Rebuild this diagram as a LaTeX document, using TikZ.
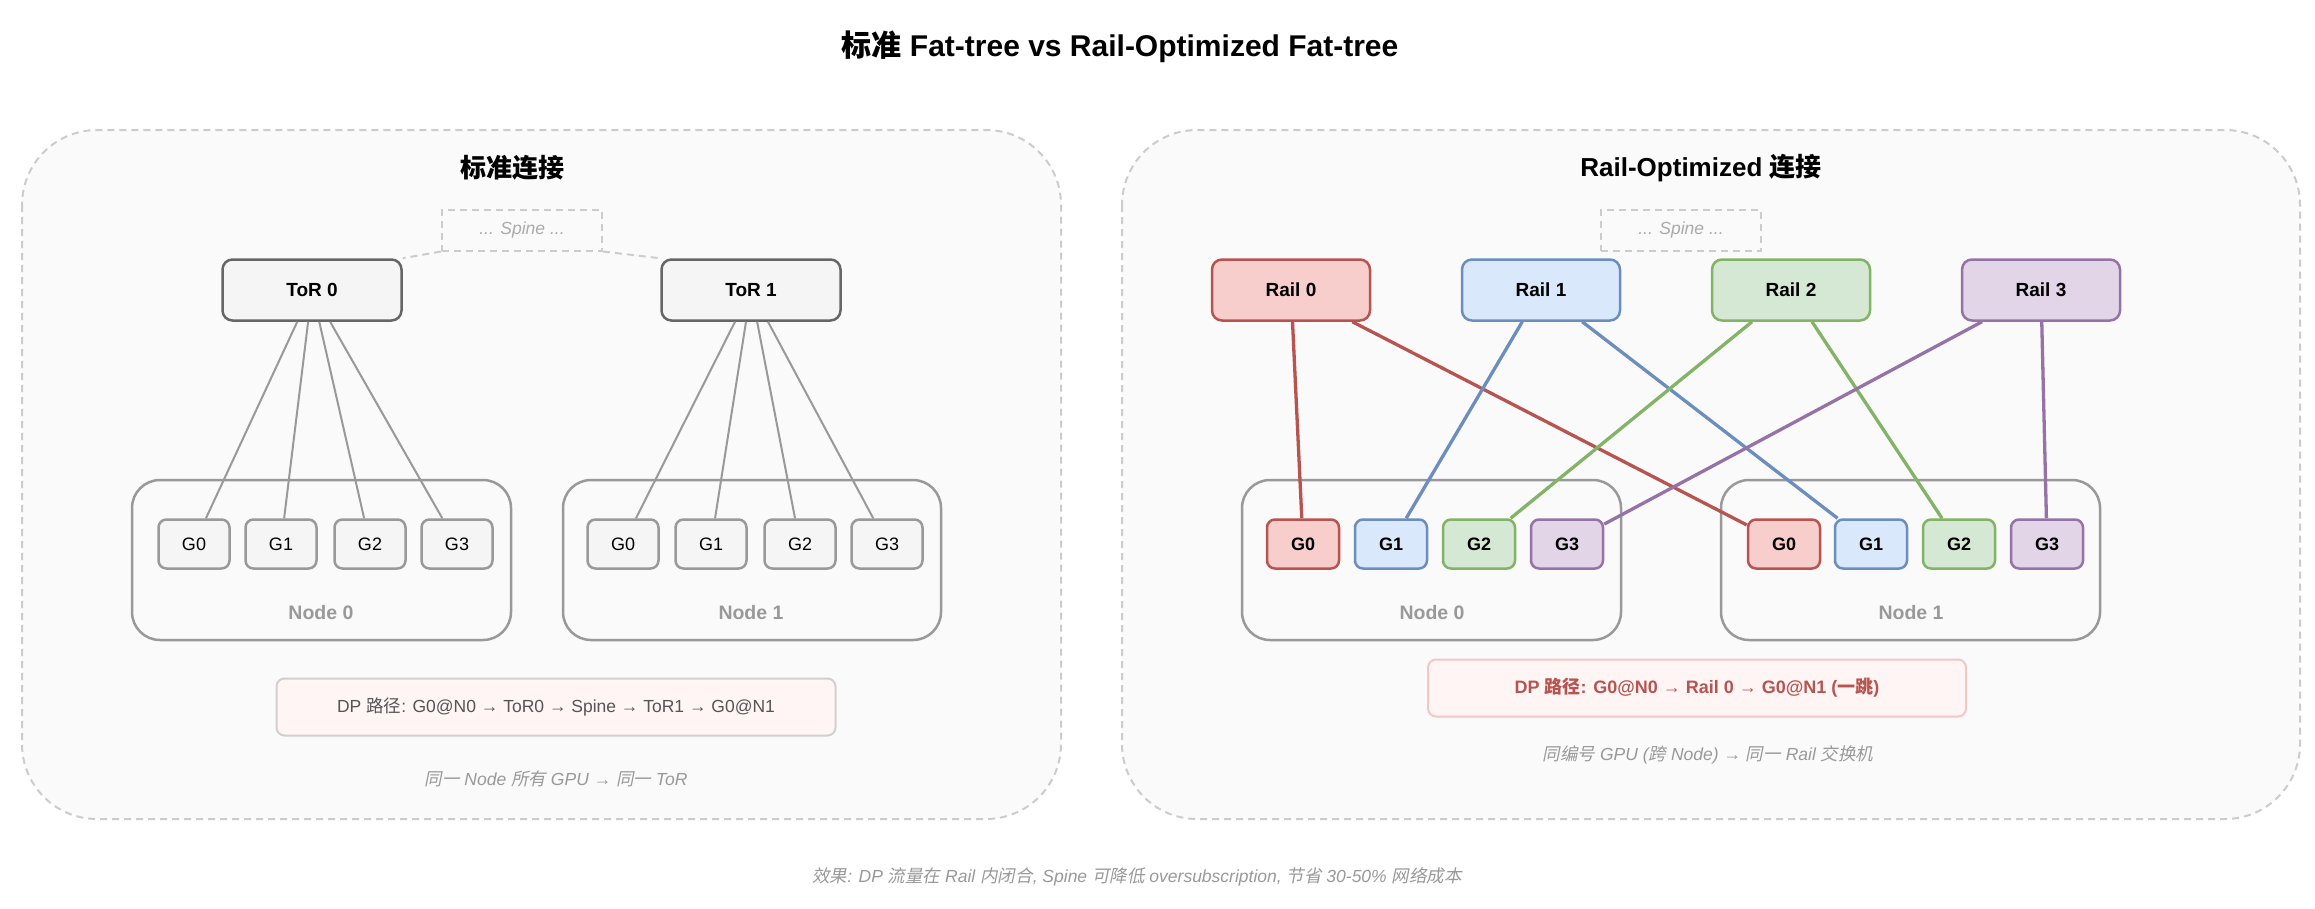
\documentclass[tikz,border=0pt]{standalone}
\usepackage{fontspec}
\setmainfont{Liberation Sans}
\newfontfamily\cjk{Noto Sans CJK SC}
\newfontfamily\cjkit{Noto Sans CJK SC}[FakeSlant=0.2]
\newcommand{\zh}[1]{{\cjk #1}}
\newcommand{\zhi}[1]{{\cjkit #1}}
\newcommand{\fs}[1]{\fontsize{#1}{#1}\selectfont}
\definecolor{panelbg}{HTML}{FAFAFA}
\definecolor{panelline}{HTML}{CCCCCC}
\definecolor{torfill}{HTML}{F5F5F5}
\definecolor{torline}{HTML}{666666}
\definecolor{gline}{HTML}{999999}
\definecolor{txtgrey}{HTML}{999999}
\definecolor{spinetxt}{HTML}{AAAAAA}
\definecolor{dpfill}{HTML}{FFF5F5}
\definecolor{dpline}{HTML}{D0D0D0}
\definecolor{dplineR}{HTML}{F5C6C6}
\definecolor{dptxt}{HTML}{555555}
\definecolor{rfill}{HTML}{F8CECC}\definecolor{rline}{HTML}{B85450}
\definecolor{bfill}{HTML}{DAE8FC}\definecolor{bline}{HTML}{6C8EBF}
\definecolor{gfill}{HTML}{D5E8D4}\definecolor{glineC}{HTML}{82B366}
\definecolor{pfill}{HTML}{E1D5E7}\definecolor{pline}{HTML}{9673A6}
\tikzset{
  panel/.style={draw=panelline, fill=panelbg, line width=2pt, dash pattern=on 7pt off 5pt, rounded corners=75pt},
  spinebox/.style={draw=panelline, line width=2pt, dash pattern=on 7pt off 5pt, minimum width=160pt, minimum height=41pt, inner sep=0pt, text=spinetxt, font=\fs{17.5}\itshape},
  torbox/.style={draw=torline, fill=torfill, line width=2.5pt, rounded corners=10pt, minimum width=179pt, minimum height=61pt, inner sep=0pt, font=\fs{19}\bfseries},
  railbox/.style={line width=2.5pt, rounded corners=10pt, minimum width=158pt, minimum height=61pt, inner sep=0pt, font=\fs{19}\bfseries},
  gbox/.style={draw=gline, fill=torfill, line width=2.5pt, rounded corners=8pt, minimum width=71pt, minimum height=49pt, inner sep=0pt, font=\fs{18}},
  cgbox/.style={line width=2.5pt, rounded corners=8pt, minimum width=72pt, minimum height=49pt, inner sep=0pt, font=\fs{18}\bfseries},
  nodebox/.style={draw=gline, line width=2.5pt, rounded corners=28pt},
  nodelabel/.style={text=txtgrey, font=\fs{19.5}\bfseries},
  caption/.style={text=txtgrey, font=\fs{17.5}\itshape},
  graylink/.style={draw=gline, line width=2pt},
  spinelink/.style={draw=panelline, line width=2pt, dash pattern=on 7pt off 5pt},
  clink/.style={line width=3.3pt},
  red/.style={draw=rline, fill=rfill},
  blue/.style={draw=bline, fill=bfill},
  green/.style={draw=glineC, fill=gfill},
  purple/.style={draw=pline, fill=pfill},
}
\begin{document}
\begin{tikzpicture}[x=1pt, y=-1pt]
\useasboundingbox[fill=white] (0,0) rectangle (2315,908);
% title
\node (title) at (1120,47) {\fs{30}\bfseries\zh{标准} Fat-tree vs Rail-Optimized Fat-tree};
% panels
\path[panel] (22,130) rectangle (1061,819);
\path[panel] (1122,130) rectangle (2300,819);
\node (ltitle) at (512,168) {\fs{26}\bfseries\zh{标准连接}};
\node (rtitle) at (1701,168) {\fs{26}\bfseries Rail-Optimized \zh{连接}};

% ===== left =====
\node[spinebox] (spL) at (522,230) {... Spine ...};
\node[torbox] (tor0) at (312,290) {ToR 0};
\node[torbox] (tor1) at (751,290) {ToR 1};
\draw[spinelink] (spL.south west) -- (tor0.north east);
\draw[spinelink] (spL.south east) -- (tor1.north west);
\draw[nodebox] (132,480) rectangle (511,640);
\draw[nodebox] (563,480) rectangle (941,640);
\node[nodelabel] (nl0) at (321,613) {Node 0};
\node[nodelabel] (nl1) at (751,613) {Node 1};
\foreach \i/\x in {0/194,1/281,2/370,3/457}{
  \node[gbox] (la\i) at (\x,544) {G\i};
}
\foreach \i/\x in {0/623,1/711,2/800,3/887}{
  \node[gbox] (lb\i) at (\x,544) {G\i};
}
\foreach \i in {0,1,2,3}{
  \draw[graylink] (tor0) -- (la\i);
  \draw[graylink] (tor1) -- (lb\i);
}
\node[draw=dpline, fill=dpfill, line width=2pt, rounded corners=8pt, minimum width=559pt, minimum height=57pt, inner sep=0pt, text=dptxt, font=\fs{17.5}] (dpL) at (556,707) {DP \zh{路径}: G0@N0 → ToR0 → Spine → ToR1 → G0@N1};
\node[caption] (capL) at (556,779) {\zhi{同一} Node \zhi{所有} GPU → \zhi{同一} ToR};

% ===== right =====
\node[spinebox] (spR) at (1681,230) {... Spine ...};
\node[railbox, red] (r0) at (1291,290) {Rail 0};
\node[railbox, blue] (r1) at (1541,290) {Rail 1};
\node[railbox, green] (r2) at (1791,290) {Rail 2};
\node[railbox, purple] (r3) at (2041,290) {Rail 3};
\draw[nodebox] (1242,480) rectangle (1621,640);
\draw[nodebox] (1721,480) rectangle (2100,640);
\node[nodelabel] (rl0) at (1432,613) {Node 0};
\node[nodelabel] (rl1) at (1911,613) {Node 1};
\foreach \i/\x/\c in {0/1303/red,1/1391/blue,2/1479/green,3/1567/purple}{
  \node[cgbox, \c] (ra\i) at (\x,544) {G\i};
}
\foreach \i/\x/\c in {0/1784/red,1/1871/blue,2/1959/green,3/2047/purple}{
  \node[cgbox, \c] (rb\i) at (\x,544) {G\i};
}
\draw[clink, draw=rline] (r0) -- (ra0);
\draw[clink, draw=rline] (r0) -- (rb0);
\draw[clink, draw=bline] (r1) -- (ra1);
\draw[clink, draw=bline] (r1) -- (rb1);
\draw[clink, draw=glineC] (r2) -- (ra2);
\draw[clink, draw=glineC] (r2) -- (rb2);
\draw[clink, draw=pline] (r3) -- (ra3);
\draw[clink, draw=pline] (r3) -- (rb3);
\node[draw=dplineR, fill=dpfill, line width=2pt, rounded corners=8pt, minimum width=538pt, minimum height=57pt, inner sep=0pt, text=rline, font=\fs{18}\bfseries] (dpR) at (1697,688) {DP \zh{路径}: G0@N0 → Rail 0 → G0@N1 (\zh{一跳})};
\node[caption] (capR) at (1708,755) {\zhi{同编号} GPU (\zhi{跨} Node) → \zhi{同一} Rail \zhi{交换机}};

% bottom caption
\node[caption] (bottom) at (1137,877) {\zhi{效果}: DP \zhi{流量在} Rail \zhi{内闭合}, Spine \zhi{可降低} oversubscription, \zhi{节省} 30-50\% \zhi{网络成本}};
\end{tikzpicture}
\end{document}
